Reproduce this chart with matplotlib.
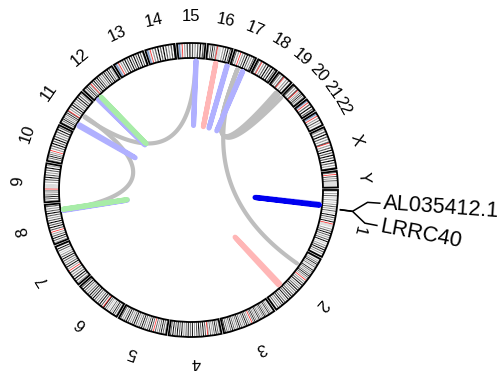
import numpy as np
import matplotlib
matplotlib.use("Agg")
import matplotlib.pyplot as plt
from matplotlib.patches import Wedge

plt.rcParams['font.family'] = ['Liberation Sans', 'DejaVu Sans']
plt.rcParams['path.simplify'] = False

# ---------------- data ----------------
chrom_names = ["1", "2", "3", "4", "5", "6", "7", "8", "9", "10", "11", "12",
               "13", "14", "15", "16", "17", "18", "19", "20", "21", "22", "X", "Y"]
chrom_lengths = [249.25, 243.2, 198.0, 191.15, 180.9, 171.1, 159.1, 146.4, 141.2,
                 135.5, 135.0, 133.85, 115.2, 107.35, 102.5, 90.35, 81.2, 78.1,
                 59.1, 63.0, 48.1, 51.3, 155.3, 59.4]
centromeres = [125.0, 93.3, 91.0, 50.4, 48.4, 61.0, 59.9, 45.6, 49.0, 40.2, 53.7, 35.8,
               17.9, 17.6, 19.0, 36.6, 24.0, 17.2, 26.5, 27.5, 13.2, 14.7, 60.6, 12.5]
# stain codes: 0 gneg, 1 gpos25, 2 gpos50, 3 gpos75, 4 gpos100, v gvar, s stalk
p_bands = ["0102030102010203020301040302040", "01020304020301040302030403020",
           "0102030402030403020304020304030", "02030403020302", "0203040302030",
           "020304020301020304", "0203040302030", "02030403020", "0203040302030",
           "02030403020", "0203040302030403", "0203040302", "vsv", "vsv", "vsv",
           "0203040302", "03020", "0302", "030203", "030203", "vsv", "vsv",
           "020304030203", "030"]
q_bands = ["vvv0203040302030401020304030201", "02030402030403020304030402030403020301",
           "0203040302030403020304030203040", "03040304030204030403020403040304030",
           "03040302030403020304030203040302030", "030403020304030403020304030",
           "020403020304030201030402", "03040304030203040302030",
           "vvvv02030403020304020", "020304030403020304030", "0203040302030403020",
           "0304030403020304030403020", "0203040304030403040302", "020304030403020304",
           "02030403020304030", "vvv020304030", "0203040302030", "0203040304030",
           "v020302", "02030403020", "0304030", "02030201",
           "02030403040304030203", "030203vvvvvv"]

# links: (chrom A, pos A [Mb], chrom B, pos B [Mb], colour)
link_chrom_a = ["17", "17", "17", "17", "17", "11", "11",
                "1", "1", "2", "15", "16", "16", "17", "12", "12", "11", "8", "8"]
link_pos_a = [33, 33, 33, 33, 33, 66, 70,
              57, 60, 170, 70, 40, 87, 55, 13, 28, 23, 116, 121]
link_chrom_b = ["2", "19", "19", "19", "20", "15", "8",
                "1", "1", "2", "15", "16", "16", "17", "12", "12", "11", "8", "8"]
link_pos_b = [61, 40, 47, 54, 2, 70, 118,
              60, 63, 177, 72, 41, 89, 57, 15, 29, 29, 118, 122]
link_colors = ["gray", "gray", "gray", "gray", "gray", "gray", "gray",
               "blue", "darkblue", "pink", "blue", "pink", "blue", "blue", "blue", "green",
               "blue", "blue", "green"]

gene_names = ["AL035412.1", "LRRC40"]
gene_chrom = ["1", "1"]
gene_pos = [69.0, 69.5]

# ---------------- layout / style ----------------
GAP = 9.0
CX, CY = 191.0, 190.0
R_OUT, R_IN, R_LINK, R_CHRLAB = 147.0, 132.0, 129.0, 173.0

stain_col = {"0": "#ffffff", "1": "#d0d0d0", "2": "#9a9a9a", "3": "#555555",
             "4": "#000000", "v": "#dcdcdc", "s": "#7393c7", "c": "#ff2020"}
link_col = {"gray": "#bebebe", "darkblue": "#0000f0", "pink": "#ffb6b6",
            "blue": "#b0b0ff", "green": "#a8eca8"}

starts = {}
cum = 0.0
for n, L in zip(chrom_names, chrom_lengths):
    starts[n] = cum
    cum += L + GAP
TOTAL = cum


def ang(c, pos):
    return (starts[c] + pos) / TOTAL * 360.0


def pt(r, a):
    t = np.deg2rad(a)
    return CX + r * np.cos(t), CY + r * np.sin(t)


fig = plt.figure(figsize=(5.03, 3.71), dpi=100)
ax = fig.add_axes([0, 0, 1, 1])
ax.set_xlim(0, 503)
ax.set_ylim(371, 0)
ax.axis("off")

# ideogram
for n, L, cen, pb, qb in zip(chrom_names, chrom_lengths, centromeres, p_bands, q_bands):
    segs = []
    pe = cen - 1.5
    for i, s in enumerate(pb):
        segs.append((pe * i / len(pb), pe * (i + 1) / len(pb), s))
    segs.append((cen - 1.5, cen + 1.5, "c"))
    qs = cen + 1.5
    for i, s in enumerate(qb):
        segs.append((qs + (L - qs) * i / len(qb), qs + (L - qs) * (i + 1) / len(qb), s))
    for a0, a1, s in segs:
        col = stain_col[s]
        ax.add_patch(Wedge((CX, CY), R_OUT, ang(n, a0), ang(n, a1), width=R_OUT - R_IN,
                           facecolor=col, edgecolor=col, lw=0.15))
    ax.add_patch(Wedge((CX, CY), R_OUT, ang(n, 0), ang(n, L), width=R_OUT - R_IN,
                       fill=False, edgecolor="black", lw=1.3))
    th = ang(n, L / 2)
    x, y = pt(R_CHRLAB, th)
    ax.text(x, y, n, fontsize=12, rotation=(270 - th) % 360, ha="center", va="center",
            rotation_mode="anchor")

# links (quadratic Bezier through the centre)
t = np.linspace(0, 1, 120)[:, None]
C = np.array([CX, CY])
for ca, pa, cb, pb_, col in zip(link_chrom_a, link_pos_a, link_chrom_b, link_pos_b, link_colors):
    p0 = np.array(pt(R_LINK, ang(ca, pa)))
    p2 = np.array(pt(R_LINK, ang(cb, pb_)))
    B = (1 - t) ** 2 * p0 + 2 * t * (1 - t) * C + t ** 2 * p2
    lw = 3.0 if col == "gray" else 3.6
    ax.plot(B[:, 0], B[:, 1], color=link_col[col], lw=lw,
            solid_capstyle="round", solid_joinstyle="round")

# gene labels
label_angles = [4.0, 10.8]
for g, c, p, la in zip(gene_names, gene_chrom, gene_pos, label_angles):
    ga = ang(c, p)
    pts = [pt(150, ga), pt(163, ga), pt(177, la), pt(190, la)]
    ax.plot([q[0] for q in pts], [q[1] for q in pts], color="black", lw=1.1,
            solid_capstyle="butt")
    x, y = pt(193, la)
    ax.text(x, y, g, fontsize=15.5, rotation=-la, ha="left", va="center",
            rotation_mode="anchor")

fig.savefig("out.png", dpi=100)
